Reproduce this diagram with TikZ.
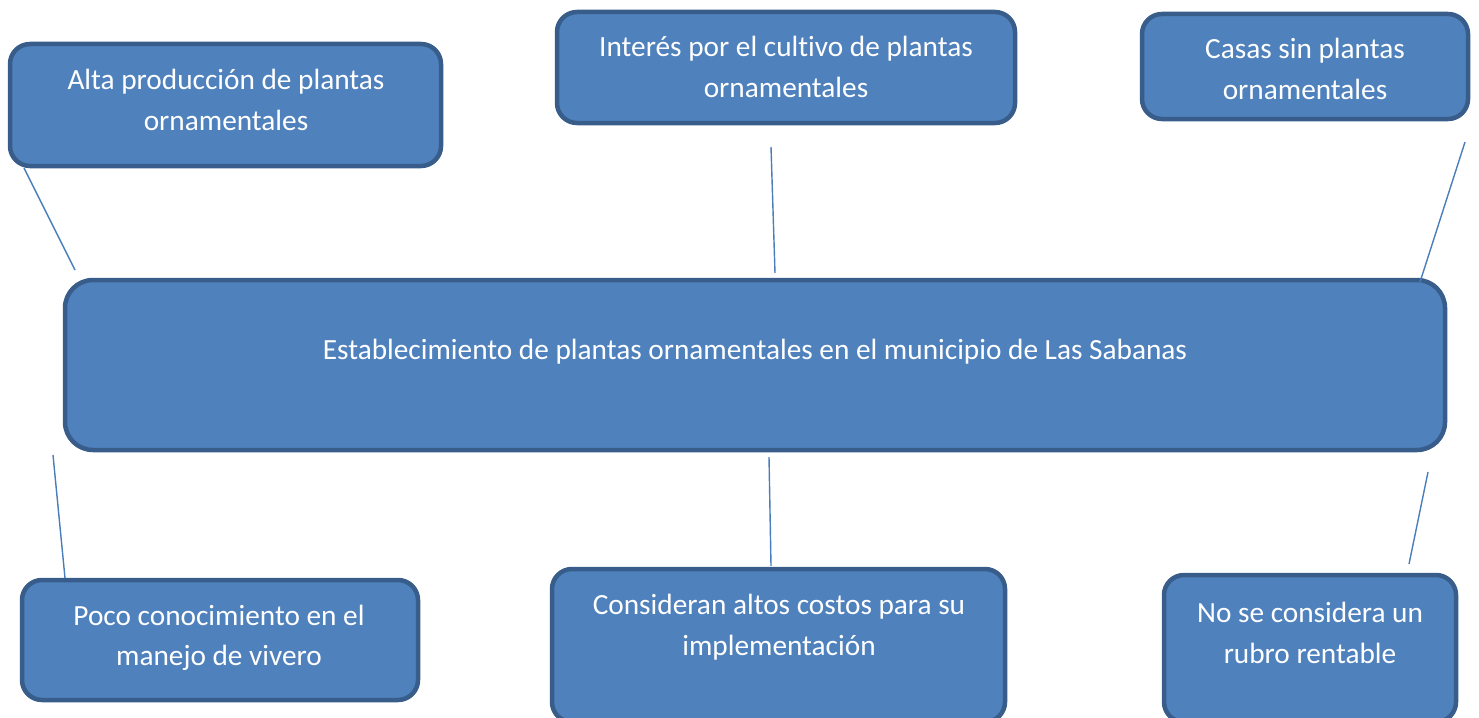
\documentclass[tikz,border=0pt]{standalone}
\usepackage{fontspec}
\setmainfont[RawFeature=-liga]{Carlito}
\definecolor{boxfill}{HTML}{4F81BD}
\definecolor{boxedge}{HTML}{385D8A}
\definecolor{linkcol}{HTML}{4A7EBB}
\tikzset{
  x=1pt, y=-1pt,
  box/.style={draw=boxedge, fill=boxfill, line width=4.5pt, rounded corners=20pt, inner sep=0pt},
  bigbox/.style={box, rounded corners=28pt},
  txt/.style={text=white, align=center, inner sep=0pt, font=\fontsize{29.3}{40.5}\selectfont},
  link/.style={draw=linkcol, line width=1.4pt}
}
\begin{document}
\begin{tikzpicture}
\useasboundingbox (0,0) rectangle (1479,717);
\clip (0,0) rectangle (1479,717);
% boxes
\node[box, minimum width=431pt, minimum height=122pt] (a) at (225.5,105) {};
\node[box, minimum width=458pt, minimum height=111pt] (b) at (786,67.5) {};
\node[box, minimum width=326pt, minimum height=105pt] (c) at (1305,66.5) {};
\node[bigbox, minimum width=1380pt, minimum height=170pt] (m) at (755,365) {};
\node[box, minimum width=396pt, minimum height=120pt] (d) at (220,640) {};
\node[box, minimum width=453pt, minimum height=153pt] (e) at (778.5,645.5) {};
\node[box, minimum width=292pt, minimum height=147pt] (f) at (1310,648.5) {};
% texts
\node[txt] (ta) at (226,100) {Alta producción de plantas\\ornamentales};
\node[txt] (tb) at (786,67) {Interés por el cultivo de plantas\\ornamentales};
\node[txt] (tc) at (1305,69) {Casas sin plantas\\ornamentales};
\node[txt] (tm) at (755,352) {Establecimiento de plantas ornamentales en el municipio de Las Sabanas};
\node[txt] (td) at (219,638) {Poco conocimiento en el\\manejo de vivero};
\node[txt] (te) at (779,627) {Consideran altos costos para su\\implementación};
\node[txt] (tf) at (1310,633) {No se considera un\\rubro rentable};
% connector ends
\coordinate (a1) at (24,168);   \coordinate (a2) at (75,270);
\coordinate (b1) at (771,147);  \coordinate (b2) at (775,273);
\coordinate (c1) at (1465,142); \coordinate (c2) at (1420,282);
\coordinate (d1) at (53,455);   \coordinate (d2) at (65,578);
\coordinate (e1) at (769,457);  \coordinate (e2) at (771,566);
\coordinate (f1) at (1428,472); \coordinate (f2) at (1409,564);
\draw[link] (a1) -- (a2);
\draw[link] (b1) -- (b2);
\draw[link] (c1) -- (c2);
\draw[link] (d1) -- (d2);
\draw[link] (e1) -- (e2);
\draw[link] (f1) -- (f2);
\end{tikzpicture}
\end{document}
